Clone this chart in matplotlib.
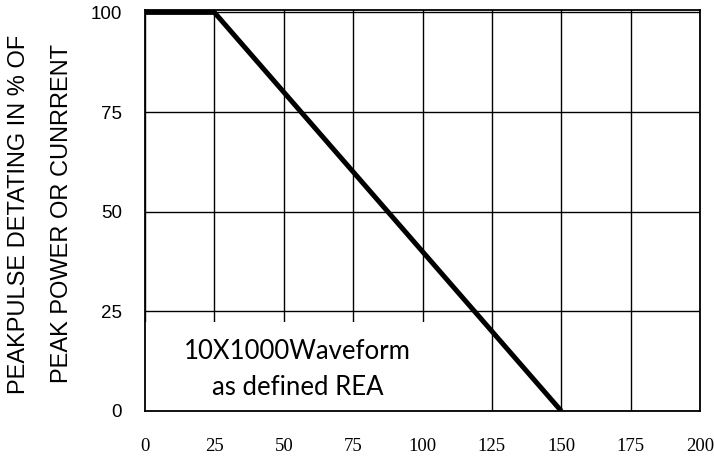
import numpy as np
import matplotlib.pyplot as plt
from matplotlib.patches import Rectangle

# datos de la curva de derating
temp = [0, 25, 150]
derating = [100, 100, 0]

xticks = [0, 25, 50, 75, 100, 125, 150, 175, 200]
yticks = [0, 25, 50, 75, 100]

ylabel_1 = 'PEAKPULSE DETATING IN % OF'
ylabel_2 = 'PEAK POWER OR CUNRRENT'
box_line1 = '10X1000Waveform'
box_line2 = 'as defined REA'

fig = plt.figure(figsize=(7.14, 4.61), dpi=100)
ax = fig.add_axes([0.2031, 0.1085, 0.7773, 0.8698])

ax.set_xlim(0, 200)
ax.set_ylim(0, 100.6)
ax.set_xticks(xticks)
ax.set_yticks(yticks)
ax.set_xticklabels([str(v) for v in xticks], family='Liberation Serif', fontsize=13.5)
ax.set_yticklabels([str(v) for v in yticks], family='Liberation Sans', fontsize=13.5)
ax.tick_params(axis='x', length=0, pad=19.5)
ax.tick_params(axis='y', length=0, pad=16.5)

ax.grid(True, color='black', linewidth=1.0)
ax.set_axisbelow(True)
for s in ax.spines.values():
    s.set_linewidth(1.3)

# recuadro blanco con el texto (tapa la rejilla)
ax.add_patch(Rectangle((0, 0), 106.6, 22.3, facecolor='white', edgecolor='none', zorder=1.5))
ax.text(54.9, 14.8, box_line1, ha='center', va='center', fontsize=18.5,
        family='Lato', zorder=3)
ax.text(54.9, 6.0, box_line2, ha='center', va='center', fontsize=18.5,
        family='Lato', zorder=3)

ax.plot(temp, derating, color='black', linewidth=3.6, solid_capstyle='butt', zorder=4)

fig.text(19 / 714, 0.536, ylabel_1, rotation=90, ha='center', va='center',
         family='Liberation Sans', fontsize=17)
fig.text(62 / 714, 0.536, ylabel_2, rotation=90, ha='center', va='center',
         family='Liberation Sans', fontsize=17)

fig.savefig('out.png', dpi=100)
